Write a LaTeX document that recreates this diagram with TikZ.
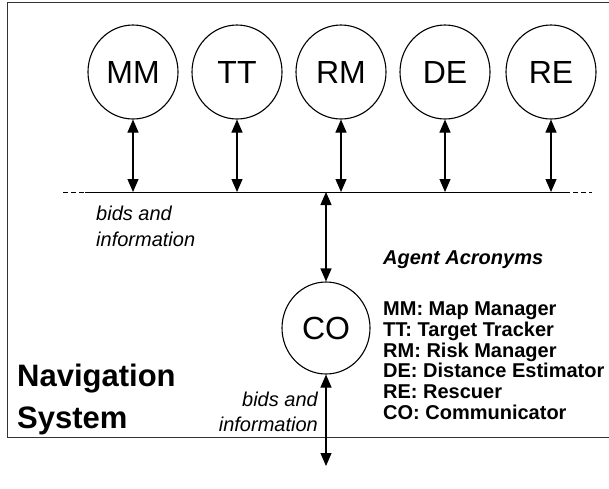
\documentclass[tikz,border=0pt]{standalone}
\usepackage{fontspec}
\setmainfont{Liberation Sans}
\usetikzlibrary{arrows.meta,shapes.geometric}
\tikzset{
  agent/.style={draw, ellipse, line width=1.1pt, inner sep=0pt, minimum width=90pt, minimum height=94pt, font=\fontsize{32}{34}\selectfont},
  biarrow/.style={line width=1.1pt, {Triangle[length=13pt,width=11pt]}-{Triangle[length=13pt,width=11pt]}},
  frameline/.style={line width=1pt, draw=black!80},
  busline/.style={line width=1pt},
  note/.style={font=\fontsize{20}{24}\selectfont\itshape, inner sep=0pt},
  legend/.style={font=\fontsize{20}{24}\selectfont\bfseries, inner sep=0pt, anchor=base west},
  title/.style={font=\fontsize{31}{36}\selectfont\bfseries, inner sep=0pt, anchor=base west}
}
\begin{document}
\begin{tikzpicture}[x=1pt,y=-1pt]
\useasboundingbox (0,0) rectangle (609,488);
% frame (open on the right)
\draw[frameline] (609,2) -- (7,2) -- (7,437) -- (609,437);
% agents
\node[agent] (MM) at (133,72) {MM};
\node[agent] (TT) at (237,72) {TT};
\node[agent] (RM) at (341,72) {RM};
\node[agent] (DE) at (445,72) {DE};
\node[agent] (RE) at (551,72) {RE};
\node[agent, minimum width=88pt, minimum height=92pt] (CO) at (326,328) {CO};
% bus
\coordinate (busA) at (63,192);
\coordinate (busB) at (85,192);
\coordinate (busC) at (565,192);
\coordinate (busD) at (592,192);
\draw[busline, dash pattern=on 5pt off 3pt] (busA) -- (busB);
\draw[busline] (busB) -- (busC);
\draw[busline, dash pattern=on 5pt off 3pt] (busC) -- (busD);
% arrows
\foreach \a in {MM,TT,RM,DE,RE}
  \draw[biarrow] (\a.south) -- (\a.south |- busB);
\draw[biarrow] (CO.north |- busB) -- (CO.north);
\coordinate (out) at (326,466);
\draw[biarrow] (CO.south) -- (out);
% labels
\node[note, anchor=base west] (n1) at (96,220) {bids and};
\node[note, anchor=base west] (n2) at (96,246) {information};
\node[note, anchor=base east] (n3) at (318,406) {bids and};
\node[note, anchor=base east] (n4) at (318,431) {information};
\node[legend, font=\fontsize{20}{24}\selectfont\bfseries\itshape] (lt) at (383,264) {Agent Acronyms};
\node[legend] (l1) at (383,315) {MM: Map Manager};
\node[legend] (l2) at (383,336) {TT: Target Tracker};
\node[legend] (l3) at (383,357) {RM: Risk Manager};
\node[legend] (l4) at (383,377.5) {DE: Distance Estimator};
\node[legend] (l5) at (383,398) {RE: Rescuer};
\node[legend] (l6) at (383,419) {CO: Communicator};
\node[title] (t1) at (17,386) {Navigation};
\node[title] (t2) at (17,428) {System};
\end{tikzpicture}
\end{document}
